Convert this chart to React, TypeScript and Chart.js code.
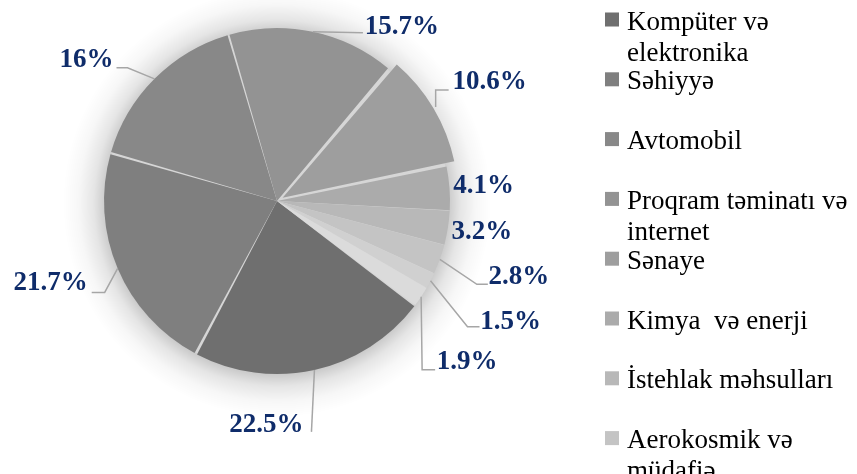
import React, { useEffect, useRef } from "react";
import { Chart, registerables } from "chart.js";

Chart.register(...registerables);

// ---- data ----
const categories = [
  "Kompüter və elektronika",
  "Səhiyyə",
  "Avtomobil",
  "Proqram təminatı və internet",
  "Sənaye",
  "Kimya  və enerji",
  "İstehlak məhsulları",
  "Aerokosmik və müdafiə",
  "Telekommunikasiya",
  "Digər",
];
const shares = [22.5, 21.7, 16, 15.7, 10.6, 4.1, 3.2, 2.8, 1.5, 1.9];

// ---- style ----
const sliceColors = [
  "#6f6f6f",
  "#7f7f7f",
  "#888888",
  "#939393",
  "#9e9e9e",
  "#ababab",
  "#b8b8b8",
  "#c4c4c4",
  "#d0d0d0",
  "#dbdbdb",
];
const sliceOffsets = [0, 0, 0, 0, 26, 0, 0, 0, 0, 0];

// label placement relative to the slice's outer edge point (E)
const labelLayout = [
  { c: [-48, 55], leader: [[-3, 62]] },
  { c: [-67, 15], leader: [[-13, 24], [-26, 24]] },
  { c: [-68, -19], leader: [[-27, -11], [-38, -11]] },
  { c: [89, -5], leader: [[50, 1]] },
  { c: [54, -25], leader: [[0, -17], [13, -17]] },
  { c: [34, -2], leader: [] },
  { c: [34, 4], leader: [] },
  { c: [79, 18], leader: [[37, 25], [48, 25]] },
  { c: [80, 41], leader: [[37, 46], [49, 46]] },
  { c: [46, 65], leader: [[1, 73], [14, 73]] },
];

const LABEL_COLOR = "#0f2c6a";
const SERIF = '"Liberation Serif", "Times New Roman", serif';

const shadowPlugin = {
  id: "pieShadow",
  beforeDatasetsDraw(chart: any) {
    const meta = chart.getDatasetMeta(0);
    const a = meta.data[0];
    if (!a) return;
    const { x, y, outerRadius } = a;
    const ctx = chart.ctx;
    ctx.save();
    const halo = 42;
    const g = ctx.createRadialGradient(x, y + 2, outerRadius - 2, x, y + 2, outerRadius + halo);
    g.addColorStop(0, "rgba(0,0,0,0.22)");
    g.addColorStop(0.3, "rgba(0,0,0,0.10)");
    g.addColorStop(0.65, "rgba(0,0,0,0.03)");
    g.addColorStop(1, "rgba(0,0,0,0)");
    ctx.beginPath();
    ctx.arc(x, y + 2, outerRadius + halo, 0, Math.PI * 2);
    ctx.fillStyle = g;
    ctx.fill();
    // light under-disk that shows through the gaps between slices
    ctx.beginPath();
    ctx.arc(x, y, outerRadius, 0, Math.PI * 2);
    ctx.fillStyle = "#d6d6d6";
    ctx.fill();
    ctx.restore();
  },
};

function edgePoint(arc: any) {
  const { x, y, startAngle, endAngle, outerRadius, circumference } = arc;
  const off = (arc.options.offset || 0) / 4;
  const sp = (arc.options.spacing || 0) / 2;
  const fix = 1 - Math.sin(Math.min(Math.PI, circumference || 0));
  const mid = (startAngle + endAngle) / 2;
  const r = outerRadius + sp + off * (1 + 2 * fix);
  return [x + Math.cos(mid) * r, y + Math.sin(mid) * r];
}

const dataLabelPlugin = {
  id: "pieLabels",
  afterDatasetsDraw(chart: any) {
    const meta = chart.getDatasetMeta(0);
    const ctx = chart.ctx;
    const values = chart.data.datasets[0].data as number[];
    ctx.save();
    meta.data.forEach((arc: any, i: number) => {
      const [ex, ey] = edgePoint(arc);
      const lay = labelLayout[i];
      if (lay.leader.length) {
        ctx.beginPath();
        ctx.moveTo(ex, ey);
        lay.leader.forEach((p) => ctx.lineTo(ex + p[0], ey + p[1]));
        ctx.strokeStyle = "#a6a6a6";
        ctx.lineWidth = 1.5;
        ctx.stroke();
      }
      ctx.font = `bold 27px ${SERIF}`;
      ctx.fillStyle = LABEL_COLOR;
      ctx.textAlign = "center";
      ctx.textBaseline = "middle";
      ctx.fillText(`${values[i]}%`, ex + lay.c[0], ey + lay.c[1]);
    });
    ctx.restore();
  },
};

function wrapText(ctx: CanvasRenderingContext2D, text: string, maxW: number) {
  const words = text.split(" ");
  const lines: string[] = [];
  let cur = "";
  words.forEach((w) => {
    const test = cur ? cur + " " + w : w;
    if (cur && ctx.measureText(test).width > maxW) {
      lines.push(cur);
      cur = w;
    } else cur = test;
  });
  if (cur) lines.push(cur);
  return lines;
}

const legendPlugin = {
  id: "sideLegend",
  afterDraw(chart: any) {
    const ctx = chart.ctx;
    const labels = chart.data.labels as string[];
    const colors = chart.data.datasets[0].backgroundColor as string[];
    const x0 = 605;
    const y0 = 19.5;
    const pitch = 59.8;
    const lineH = 31;
    const textX = x0 + 22;
    const maxW = chart.width - textX;
    ctx.save();
    ctx.font = `27px ${SERIF}`;
    ctx.textBaseline = "alphabetic";
    ctx.textAlign = "left";
    labels.forEach((lab, i) => {
      const cy = y0 + i * pitch;
      ctx.fillStyle = colors[i];
      ctx.fillRect(x0, cy - 7, 14, 14);
      ctx.fillStyle = "#000";
      wrapText(ctx, lab, maxW).forEach((ln, j) => {
        ctx.fillText(ln, textX, cy + 10 + j * lineH);
      });
    });
    ctx.restore();
  },
};

export default function App() {
  const ref = useRef<HTMLCanvasElement>(null);
  useEffect(() => {
    if (!ref.current) return;
    const chart = new Chart(ref.current, {
      type: "pie",
      data: {
        labels: categories,
        datasets: [
          {
            data: shares,
            backgroundColor: sliceColors,
            borderWidth: 0,
            spacing: 2,
            offset: sliceOffsets,
          },
        ],
      },
      options: {
        animation: false,
        responsive: false,
        rotation: 127,
        radius: 172,
        layout: { padding: { left: 0, top: 0, right: 303, bottom: 72 } },
        plugins: {
          legend: { display: false },
          tooltip: { enabled: false },
        },
      },
      plugins: [shadowPlugin, dataLabelPlugin, legendPlugin],
    } as any);
    return () => chart.destroy();
  }, []);
  return (
    <div style={{ position: "fixed", left: 0, top: 0, width: 857, height: 474, background: "#fff" }}>
      <canvas ref={ref} width={857} height={474} style={{ display: "block" }} />
    </div>
  );
}
